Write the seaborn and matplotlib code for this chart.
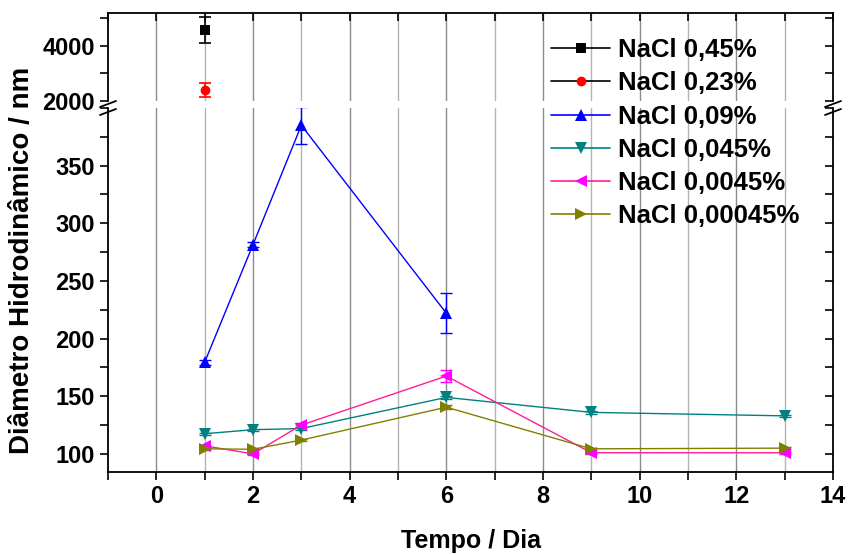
import matplotlib
matplotlib.use("Agg")
import matplotlib.pyplot as plt
from matplotlib.lines import Line2D
from matplotlib.ticker import MultipleLocator
import seaborn as sns
import pandas as pd

# ---------------- data ----------------
labels = ["NaCl 0,45%", "NaCl 0,23%", "NaCl 0,09%", "NaCl 0,045%", "NaCl 0,0045%", "NaCl 0,00045%"]

days_045 = [1]
vals_045 = [4580]
err_045 = [470]

days_023 = [1]
vals_023 = [2406]
err_023 = [250]

days_009 = [1, 2, 3, 6]
vals_009 = [179.5, 281.5, 385, 222]
err_009 = [2, 2, 16, 17.5]

days_0045a = [1, 2, 3, 6, 9, 13]
vals_0045a = [117.5, 121, 122, 149, 136, 133]   # NaCl 0,045%
err_0045a = [1, 1, 1, 1.5, 1, 1]

days_00045 = [1, 2, 3, 6, 9, 13]
vals_00045 = [107, 100, 125, 167.5, 101, 101]  # NaCl 0,0045%
err_00045 = [1, 1, 2, 5.5, 1, 1]

days_000045 = [1, 2, 3, 6, 9, 13]
vals_000045 = [104.4, 104, 112, 140.5, 104.4, 105]  # NaCl 0,00045%
err_000045 = [1, 1, 1, 1.5, 1, 1]

x_label = "Tempo / Dia"
y_label = "Diâmetro Hidrodinâmico / nm"

# ---------------- style ----------------
sns.set_style("ticks")
plt.rcParams["font.family"] = ["Liberation Sans", "DejaVu Sans"]
plt.rcParams["font.weight"] = "bold"
plt.rcParams["text.color"] = "black"
plt.rcParams["xtick.color"] = "black"
plt.rcParams["ytick.color"] = "black"
plt.rcParams["xtick.labelcolor"] = "black"
plt.rcParams["ytick.labelcolor"] = "black"

W, H = 848, 555
fig = plt.figure(figsize=(W / 100, H / 100), dpi=100)
L, R = 108, 833
top_y0, top_y1 = 13, 101
bot_y0, bot_y1 = 108, 472
ax_top = fig.add_axes([L / W, 1 - top_y1 / H, (R - L) / W, (top_y1 - top_y0) / H])
ax_bot = fig.add_axes([L / W, 1 - bot_y1 / H, (R - L) / W, (bot_y1 - bot_y0) / H])

colors = ["#000000", "#FF0000", "#0000FF", "#008080", "#FF00FF", "#808000"]
line_colors = ["#000000", "#000000", "#0000FF", "#008080", "#FF1E96", "#808000"]
markers = ["s", "o", "^", "v", "<", ">"]
msizes = [6.5, 7, 8.5, 8.5, 8.5, 8.5]

tick_fs = 17

def style_axes(ax):
    ax.set_xlim(-1, 14)
    ax.xaxis.set_major_locator(MultipleLocator(2))
    ax.xaxis.set_minor_locator(MultipleLocator(1))
    for x in range(0, 14):
        ax.axvline(x, color="#8c8c8c" if x % 2 == 0 else "#b4b4b4", lw=1.0, zorder=0)
    for s in ax.spines.values():
        s.set_linewidth(1.3)
        s.set_color("black")
    ax.set_xlabel("")
    ax.set_ylabel("")

# ---------- upper panel ----------
upper = [(days_045, vals_045, err_045), (days_023, vals_023, err_023)]
for i, (d, v, e) in enumerate(upper):
    df = pd.DataFrame({"x": d, "y": v})
    sns.scatterplot(data=df, x="x", y="y", ax=ax_top, marker=markers[i], color=colors[i],
                    s=msizes[i] ** 2, edgecolor=colors[i], linewidth=0, zorder=4)
    ax_top.errorbar(d, v, yerr=e, fmt="none", ecolor=colors[i], elinewidth=1.2, capsize=4, capthick=1.2, zorder=3)

style_axes(ax_top)
ax_top.set_ylim(2000, 5183)
ax_top.set_yticks([2000, 4000])
ax_top.yaxis.set_minor_locator(MultipleLocator(1000))
ax_top.spines["bottom"].set_visible(False)
ax_top.tick_params(axis="x", which="both", bottom=False, labelbottom=False, top=True, direction="in", length=6, width=1.2)
ax_top.tick_params(axis="y", which="both", left=True, right=True, direction="out", length=6, width=1.2, labelsize=tick_fs)
for lab in ax_top.get_yticklabels():
    lab.set_fontweight("bold")

# ---------- lower panel ----------
lower = [(days_009, vals_009, err_009), (days_0045a, vals_0045a, err_0045a),
         (days_00045, vals_00045, err_00045), (days_000045, vals_000045, err_000045)]
for j, (d, v, e) in enumerate(lower):
    i = j + 2
    df = pd.DataFrame({"x": d, "y": v})
    sns.lineplot(data=df, x="x", y="y", ax=ax_bot, color=line_colors[i], lw=1.0,
                 marker=markers[i], markersize=msizes[i], markerfacecolor=colors[i],
                 markeredgecolor=colors[i], markeredgewidth=0, zorder=3)
    ax_bot.errorbar(d, v, yerr=e, fmt="none", ecolor=colors[i], elinewidth=1.0, capsize=4, capthick=1.0, zorder=2)

style_axes(ax_bot)
ax_bot.set_ylim(84.3, 400)
ax_bot.set_yticks([100, 150, 200, 250, 300, 350])
ax_bot.yaxis.set_minor_locator(MultipleLocator(25))
ax_bot.spines["top"].set_visible(False)
ax_bot.tick_params(axis="x", which="both", bottom=True, top=False, direction="out", length=6, width=1.2, labelsize=tick_fs)
ax_bot.tick_params(axis="y", which="both", left=True, right=True, direction="out", length=6, width=1.2, labelsize=tick_fs)
for lab in ax_bot.get_xticklabels() + ax_bot.get_yticklabels():
    lab.set_fontweight("bold")
for ax in (ax_top, ax_bot):
    for t in ax.yaxis.get_major_ticks() + ax.yaxis.get_minor_ticks():
        t.tick2line.set_marker(0)  # inward on right spine

# ---------- break marks ----------
for xb in (L, R):
    for yb in (104, 112):
        fig.add_artist(Line2D([(xb - 8) / W, (xb + 8) / W], [1 - (yb + 3) / H, 1 - (yb - 3) / H],
                              color="black", lw=1.3, transform=fig.transFigure))

# ---------- labels ----------
fig.text(22 / W, 1 - 260 / H, y_label, rotation=90, ha="center", va="center", fontsize=20, fontweight="bold", color="black")
fig.text((L + R) / 2 / W, 1 - 541 / H, x_label, ha="center", va="center", fontsize=18, fontweight="bold", color="black")

# ---------- legend ----------
handles = []
for i in range(6):
    handles.append(Line2D([0], [0], color=line_colors[i], lw=1.2, marker=markers[i], markersize=msizes[i],
                          markerfacecolor=colors[i], markeredgecolor=colors[i], markeredgewidth=0))
leg = fig.legend(handles, labels, loc="upper left", bbox_to_anchor=(551 / W, 1 - 38 / H),
                 frameon=False, prop={"family": "Liberation Sans", "weight": "bold", "size": 18.5},
                 handlelength=2.3, handletextpad=0.3, labelspacing=0.36, borderpad=0, borderaxespad=0)
for t in leg.get_texts():
    t.set_color("black")

fig.savefig("out.png", dpi=100)
